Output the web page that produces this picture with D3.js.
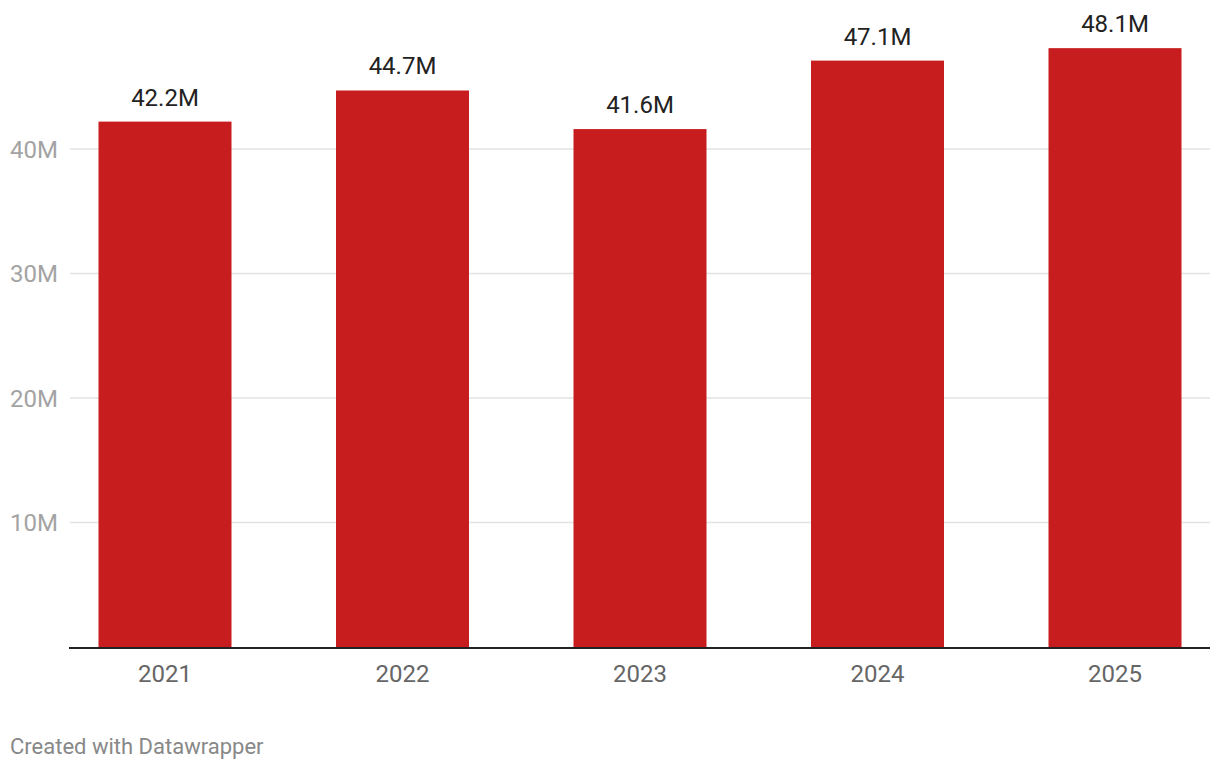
<!DOCTYPE html>
<html>
<head>
<meta charset="utf-8">
<script src="https://cdn.jsdelivr.net/npm/d3@7"></script>
<style>
  body { margin: 0; background: white; font-family: Roboto, sans-serif; }
</style>
</head>
<body>
<div id="chart"></div>
<script>
var width = 1220, height = 770;

var years = ['2021', '2022', '2023', '2024', '2025'];
var values = [42.2, 44.7, 41.6, 47.1, 48.1]; // millions
var yTicks = [10, 20, 30, 40];

var margin = {left: 70, right: 10, top: 0, bottom: 123};

var svg = d3.select('#chart').append('svg')
  .attr('width', width)
  .attr('height', height);

var x = d3.scaleBand()
  .domain(years)
  .range([margin.left, width - margin.right])
  .paddingInner(0.44)
  .paddingOuter(0.12);

var y = d3.scaleLinear()
  .domain([0, 40])
  .range([647, 149]);

// gridlines
svg.append('g')
  .selectAll('line')
  .data(yTicks)
  .enter().append('line')
  .attr('x1', margin.left)
  .attr('x2', width - margin.right)
  .attr('y1', function(d) { return y(d); })
  .attr('y2', function(d) { return y(d); })
  .attr('stroke', '#e3e3e3')
  .attr('stroke-width', 1.5);

svg.append('g')
  .selectAll('text')
  .data(yTicks)
  .enter().append('text')
  .attr('x', 10)
  .attr('y', function(d) { return y(d) + 8.5; })
  .attr('fill', '#a3a3a3')
  .style('font-size', '24px')
  .text(function(d) { return d + 'M'; });

// bars
svg.append('g')
  .selectAll('rect')
  .data(values)
  .enter().append('rect')
  .attr('x', function(d, i) { return x(years[i]); })
  .attr('width', x.bandwidth())
  .attr('y', function(d) { return y(d); })
  .attr('height', function(d) { return y(0) - y(d); })
  .attr('fill', '#c81d1e');

// value labels
svg.append('g')
  .selectAll('text')
  .data(values)
  .enter().append('text')
  .attr('x', function(d, i) { return x(years[i]) + x.bandwidth() / 2; })
  .attr('y', function(d) { return y(d) - 16; })
  .attr('text-anchor', 'middle')
  .attr('fill', '#222')
  .style('font-size', '24px')
  .text(function(d) { return d.toFixed(1) + 'M'; });

// baseline
svg.append('line')
  .attr('x1', margin.left - 1)
  .attr('x2', width - margin.right)
  .attr('y1', y(0) + 1)
  .attr('y2', y(0) + 1)
  .attr('stroke', '#222')
  .attr('stroke-width', 2);

// year labels
svg.append('g')
  .selectAll('text')
  .data(years)
  .enter().append('text')
  .attr('x', function(d) { return x(d) + x.bandwidth() / 2; })
  .attr('y', 682)
  .attr('text-anchor', 'middle')
  .attr('fill', '#666')
  .style('font-size', '24px')
  .text(function(d) { return d; });

svg.append('text')
  .attr('x', 10)
  .attr('y', 754)
  .attr('fill', '#888')
  .style('font-size', '22px')
  .text('Created with Datawrapper');
</script>
</body>
</html>
